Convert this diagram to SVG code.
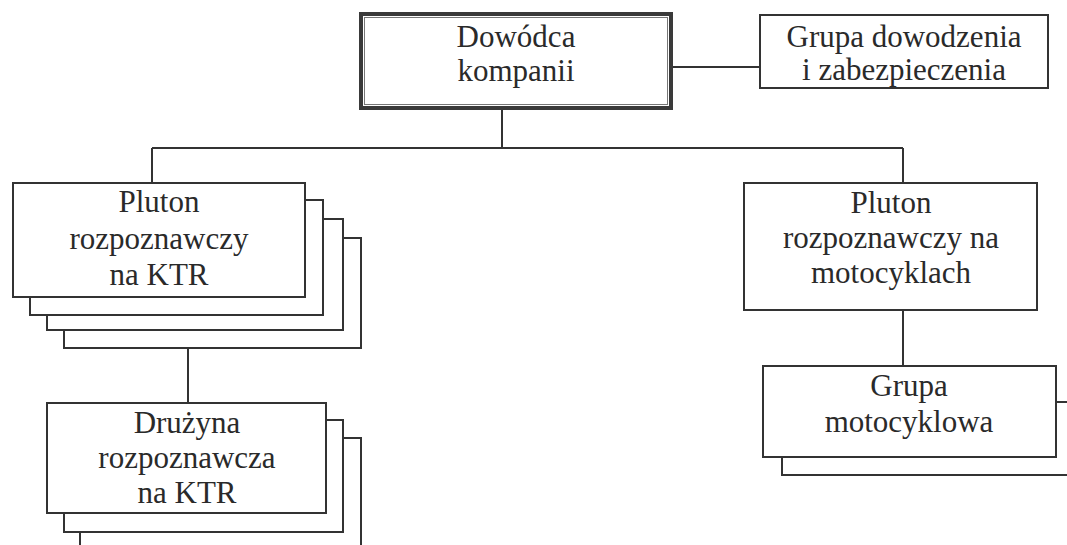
<svg xmlns="http://www.w3.org/2000/svg" width="1067" height="545" viewBox="0 0 1067 545">
<style>
.b{fill:#fff;stroke:#333;stroke-width:2}
.c{fill:none;stroke:#333;stroke-width:2}
.t{font-family:"Liberation Serif","Times New Roman",serif;font-size:31px;fill:#2a2a2a;text-anchor:middle}
</style>
<rect width="1067" height="545" fill="#fff"/>
<g id="connectors">
<path class="c" d="M502 110V148M152 148H903M152 148V183M903 148V183M673 67H760M188 348V403M903 310V366"/>
</g>
<g id="dowodca">
<rect x="361" y="14" width="310" height="94" fill="#fff" stroke="#3a3a3a" stroke-width="4"/>
<rect x="364.5" y="17.5" width="303" height="87" fill="none" stroke="#777" stroke-width="1"/>
<text class="t" x="516" y="47">Dowódca</text>
<text class="t" x="516" y="81">kompanii</text>
</g>
<g id="grupa-dowodzenia">
<rect class="b" x="760" y="15" width="288" height="73"/>
<text class="t" x="904" y="47">Grupa dowodzenia</text>
<text class="t" x="904" y="80">i zabezpieczenia</text>
</g>
<g id="pluton-ktr">
<rect class="b" x="64" y="238" width="297" height="110"/>
<rect class="b" x="47" y="219" width="296" height="111"/>
<rect class="b" x="30" y="200" width="293" height="115"/>
<rect class="b" x="13" y="183" width="292" height="114"/>
<text class="t" x="159" y="212">Pluton</text>
<text class="t" x="159" y="249">rozpoznawczy</text>
<text class="t" x="159" y="285">na KTR</text>
</g>
<g id="druzyna">
<rect class="b" x="80" y="438" width="281" height="120"/>
<rect class="b" x="64" y="420" width="279" height="112"/>
<rect class="b" x="47" y="403" width="279" height="110"/>
<text class="t" x="187" y="433">Drużyna</text>
<text class="t" x="187" y="468">rozpoznawcza</text>
<text class="t" x="187" y="503">na KTR</text>
</g>
<g id="pluton-moto">
<rect class="b" x="744" y="183" width="293" height="127"/>
<text class="t" x="891" y="213">Pluton</text>
<text class="t" x="891" y="248">rozpoznawczy na</text>
<text class="t" x="891" y="283">motocyklach</text>
</g>
<g id="grupa-moto">
<rect class="b" x="782" y="402" width="300" height="73"/>
<rect class="b" x="763" y="366" width="293" height="91"/>
<text class="t" x="909" y="396">Grupa</text>
<text class="t" x="909" y="432">motocyklowa</text>
</g>
</svg>
